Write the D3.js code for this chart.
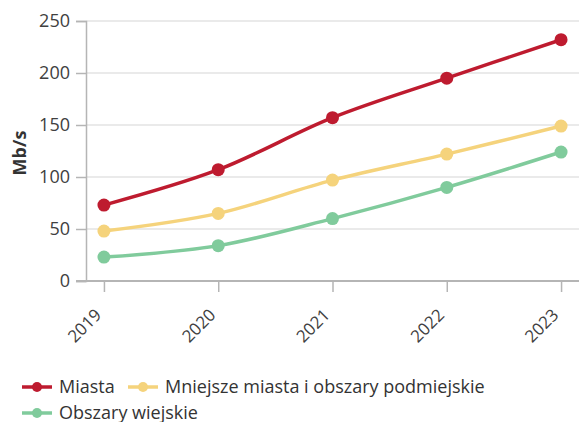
<!DOCTYPE html>
<html><head><meta charset="utf-8">
<script src="https://cdn.jsdelivr.net/npm/d3@7"></script>
<style>body{margin:0;background:#fff;}svg{display:block;font-family:"Open Sans",sans-serif;}</style>
</head><body><svg id="c" width="579" height="422"></svg>
<script>
const years = ["2019","2020","2021","2022","2023"];
const miasta = [73, 107, 157, 195, 232];
const mniejsze = [48, 65, 97, 122, 149];
const wiejskie = [23, 34, 60, 90, 124];
const yTicks = [0, 50, 100, 150, 200, 250];
const seriesNames = ["Miasta", "Mniejsze miasta i obszary podmiejskie", "Obszary wiejskie"];
const colors = ["#BE1B2F", "#F5D37C", "#80CB9C"];

const svg = d3.select("#c");
const x = d3.scalePoint().domain(years).range([86, 579]).padding(0.157);
const y = d3.scaleLinear().domain([0, 250]).range([281, 21]);

// gridlines
svg.append("g").selectAll("line").data(yTicks.filter(d => d > 0)).join("line")
  .attr("x1", 86).attr("x2", 579).attr("y1", d => y(d)).attr("y2", d => y(d))
  .attr("stroke", "#e3e3e3").attr("stroke-width", 1.5);

// y axis
const ya = svg.append("g").attr("transform", "translate(86,0)")
  .call(d3.axisLeft(y).tickValues(yTicks).tickSize(10).tickPadding(6));
ya.select(".domain").attr("stroke", "#b5b5b5").attr("stroke-width", 1.5);
ya.selectAll(".tick line").attr("stroke", "#b5b5b5").attr("stroke-width", 1.5);
ya.selectAll("text").attr("font-size", 18).attr("fill", "#404040").attr("font-family", "Open Sans");

// x axis
const xa = svg.append("g").attr("transform", "translate(0,281)")
  .call(d3.axisBottom(x).tickSize(11).tickSizeOuter(0));
xa.select(".domain").attr("stroke", "#b5b5b5").attr("stroke-width", 2).attr("d", "M76,0H579");
xa.selectAll(".tick line").attr("stroke", "#b5b5b5").attr("stroke-width", 1.5);
xa.selectAll("text").attr("font-size", 17).attr("fill", "#404040").attr("font-family", "Open Sans")
  .attr("text-anchor", "end").attr("dy", null).attr("y", 0)
  .attr("transform", "translate(-2,35) rotate(-45)");

// y label
svg.append("text").attr("transform", "translate(26,153) rotate(-90)")
  .attr("text-anchor", "middle").attr("font-size", 18).attr("font-weight", "bold")
  .attr("fill", "#333").text("Mb/s");

const all = [miasta, mniejsze, wiejskie];
const line = d3.line().x((d, i) => x(years[i])).y(d => y(d)).curve(d3.curveCatmullRom.alpha(0.5));
all.forEach((vals, k) => {
  svg.append("path").datum(vals).attr("d", line).attr("fill", "none")
    .attr("stroke", colors[k]).attr("stroke-width", 3.5);
  svg.append("g").selectAll("circle").data(vals).join("circle")
    .attr("cx", (d, i) => x(years[i])).attr("cy", d => y(d)).attr("r", 6.5)
    .attr("fill", colors[k]);
});

// legend
const legPos = [[22, 387], [128, 387], [22, 413]];
seriesNames.forEach((name, k) => {
  const g = svg.append("g").attr("transform", `translate(${legPos[k][0]},${legPos[k][1]})`);
  g.append("line").attr("x1", 0).attr("x2", 30).attr("stroke", colors[k]).attr("stroke-width", 3.5);
  g.append("circle").attr("cx", 15).attr("r", 5).attr("fill", colors[k]);
  g.append("text").attr("x", 37).attr("dy", "0.35em").attr("font-size", 18).attr("fill", "#333").text(name);
});
</script></body></html>
